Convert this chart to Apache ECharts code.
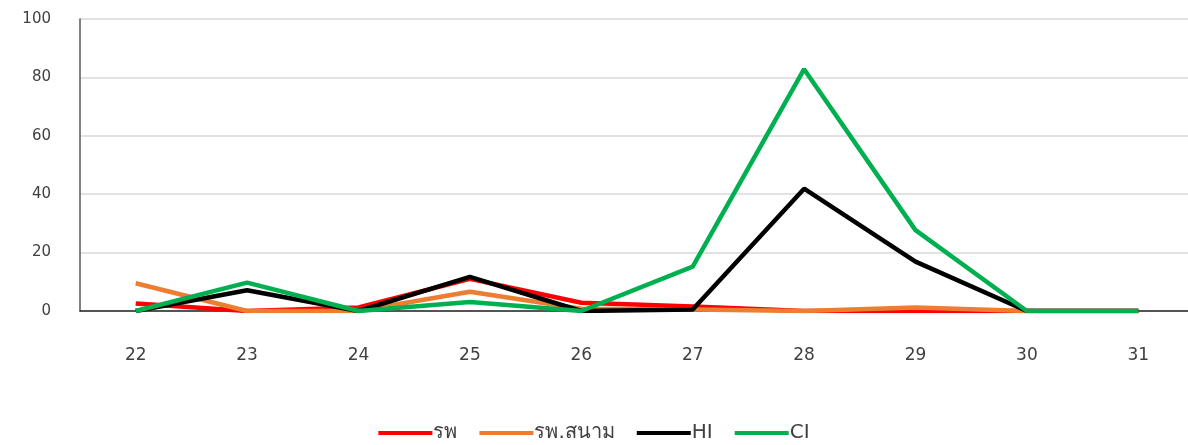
<!DOCTYPE html>
<html>
<head>
<meta charset="utf-8">
<script src="https://cdn.jsdelivr.net/npm/echarts@6/dist/echarts.min.js"></script>
<style>
  html, body { margin: 0; padding: 0; background: #fff; }
  #chart { width: 1188px; height: 445px; }
</style>
</head>
<body>
<div id="chart"></div>
<script>
const days = ['22', '23', '24', '25', '26', '27', '28', '29', '30', '31']
const hospital = [2.6, 0, 1.2, 11, 2.8, 1.5, 0, 0, 0, 0]
const fieldHospital = [9.5, 0, 0, 6.6, 0.8, 0.5, 0, 1.2, 0, 0]
const hi = [0, 7.1, 0, 11.7, 0, 0.5, 41.9, 16.9, 0, 0]
const ci = [0, 9.7, 0, 3.1, 0, 15.2, 82.8, 27.7, 0, 0]

const chart = echarts.init(document.getElementById('chart'))

const mkSeries = (name, data, color) => ({
  name,
  type: 'line',
  data,
  symbol: 'none',
  lineStyle: { width: 4.5, color },
  itemStyle: { color }
})

chart.setOption({
  animation: false,
  backgroundColor: '#fff',
  textStyle: { fontFamily: 'DejaVu Sans, Noto Sans, sans-serif' },
  grid: { left: 80, width: 1114, top: 19, bottom: 134, outerBoundsMode: 'none', containLabel: false },
  legend: {
    top: 418,
    left: 'center',
    itemWidth: 54,
    itemHeight: 4,
    itemGap: 22,
    icon: 'rect',
    textStyle: { color: '#404040', fontSize: 20, padding: [0, 0, 0, -4] },
    data: ['รพ', 'รพ.สนาม', 'HI', 'CI']
  },
  xAxis: {
    type: 'category',
    data: days,
    boundaryGap: true,
    axisLine: { lineStyle: { color: '#262626', width: 1.5 } },
    axisTick: { show: false },
    axisLabel: { color: '#404040', fontSize: 17, margin: 36 }
  },
  yAxis: {
    type: 'value',
    min: 0,
    max: 100,
    interval: 20,
    axisLine: { show: true, lineStyle: { color: '#595959', width: 1.5 } },
    axisTick: { show: false },
    splitLine: { lineStyle: { color: '#d9d9d9', width: 1.5 } },
    axisLabel: { color: '#404040', fontSize: 15, margin: 29 }
  },
  series: [
    mkSeries('รพ', hospital, '#ff0000'),
    mkSeries('รพ.สนาม', fieldHospital, '#ed7d31'),
    mkSeries('HI', hi, '#000000'),
    mkSeries('CI', ci, '#00b050')
  ]
})
</script>
</body>
</html>
